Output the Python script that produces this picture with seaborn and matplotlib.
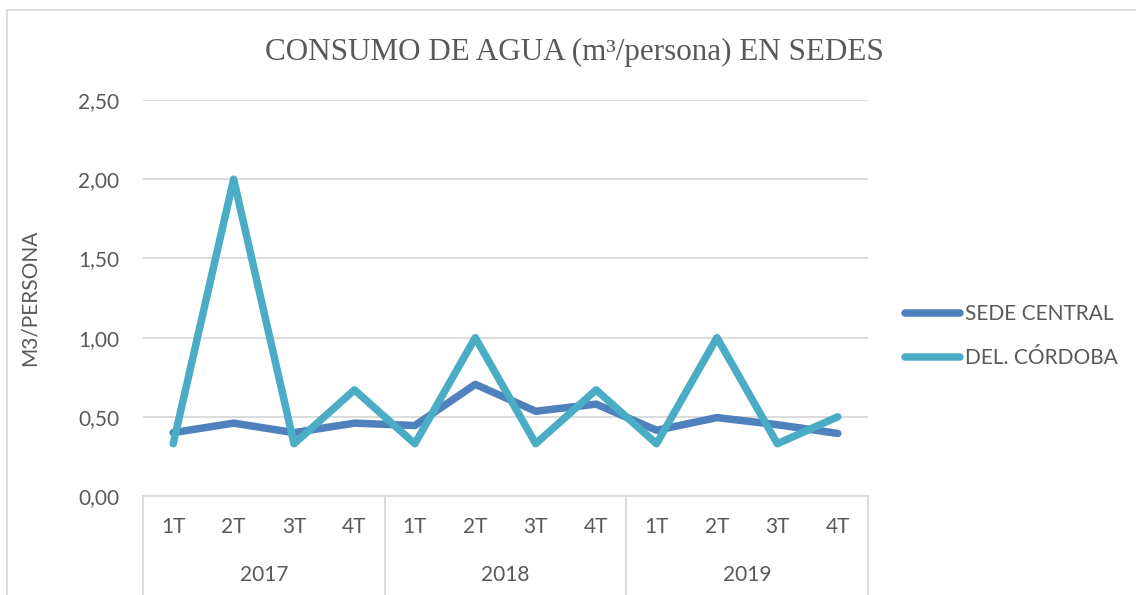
import numpy as np
import pandas as pd
import seaborn as sns
import matplotlib.pyplot as plt
from matplotlib.lines import Line2D
import matplotlib.transforms as mtransforms

# Datos
years = ['2017', '2018', '2019']
quarters = ['1T', '2T', '3T', '4T']
sede_central = [0.40, 0.46, 0.40, 0.46, 0.445, 0.705, 0.535, 0.58, 0.415, 0.495, 0.45, 0.395]
del_cordoba = [0.33, 2.00, 0.33, 0.67, 0.33, 1.00, 0.33, 0.67, 0.33, 1.00, 0.33, 0.50]
series_names = ['SEDE CENTRAL', 'DEL. CÓRDOBA']
series_colors = ['#4F81BD', '#4BACC6']

sns.set_style('white')
plt.rcParams['font.family'] = ['Lato', 'DejaVu Sans']
gray = '#595959'
gridc = '#D9D9D9'
fs = 15

n = len(years) * len(quarters)
df = pd.DataFrame({
    'pos': list(range(n)) * 2,
    'valor': sede_central + del_cordoba,
    'serie': [series_names[0]] * n + [series_names[1]] * n,
})

fig = plt.figure(figsize=(11.36, 5.95), dpi=100)
ax = fig.add_axes([143 / 1136, 1 - 496 / 595, (868 - 143) / 1136, 396 / 595])

sns.lineplot(data=df, x='pos', y='valor', hue='serie', palette=series_colors,
             linewidth=5.4, ax=ax, legend=False, sort=False)
for ln in ax.get_lines():
    ln.set_solid_capstyle('round')

ax.set_xlim(-0.5, n - 0.5)
ax.set_ylim(0, 2.5)
ax.set_yticks(np.arange(0, 2.51, 0.5))
ax.set_yticklabels([f'{v:.2f}'.replace('.', ',') for v in np.arange(0, 2.51, 0.5)])
ax.yaxis.grid(True, color=gridc, linewidth=1.3)
ax.set_axisbelow(True)
for s in ['top', 'right', 'left']:
    ax.spines[s].set_visible(False)
ax.spines['bottom'].set_color(gridc)
ax.spines['bottom'].set_linewidth(1.3)

ax.set_xticks(range(n))
ax.set_xticklabels(quarters * len(years))
ax.tick_params(axis='x', length=0, pad=15, labelsize=fs, labelcolor=gray)
ax.tick_params(axis='y', length=0, pad=17, labelsize=fs, labelcolor=gray)
ax.set_xlabel('')
ax.set_ylabel('M3/PERSONA', fontsize=fs, color=gray, labelpad=28)

# eje de categorias multinivel
trans = mtransforms.blended_transform_factory(ax.transData, ax.transAxes)
for i in range(len(years) + 1):
    xb = i * len(quarters) - 0.5
    ax.plot([xb, xb], [0, -0.26], transform=trans, color=gridc, lw=1.3, clip_on=False)
for i, yr in enumerate(years):
    xc = i * len(quarters) + (len(quarters) - 1) / 2
    ax.text(xc, -0.2, yr, transform=trans, ha='center', va='center', fontsize=fs, color=gray)

fig.text(574 / 1136, 1 - 52 / 595, 'CONSUMO DE AGUA (m³/persona) EN SEDES',
         ha='center', va='center', fontsize=22.4, color=gray, family=['Liberation Serif', 'DejaVu Serif'])

handles = [Line2D([0], [0], color=c, lw=5.4, solid_capstyle='round') for c in series_colors]
ax.legend(handles, series_names, loc='center left', bbox_to_anchor=(905 / 1136, 1 - 336 / 595),
          bbox_transform=fig.transFigure, frameon=False, borderpad=0, borderaxespad=0,
          handlelength=2.65, handletextpad=0.25, labelspacing=1.15, fontsize=fs, labelcolor=gray)

# borde del grafico
fig.add_artist(Line2D([7 / 1136, 7 / 1136], [0, 1 - 10 / 595], color=gridc, lw=1.3))
fig.add_artist(Line2D([7 / 1136, 1], [1 - 10 / 595, 1 - 10 / 595], color=gridc, lw=1.3))

fig.savefig('out.png', dpi=100)
